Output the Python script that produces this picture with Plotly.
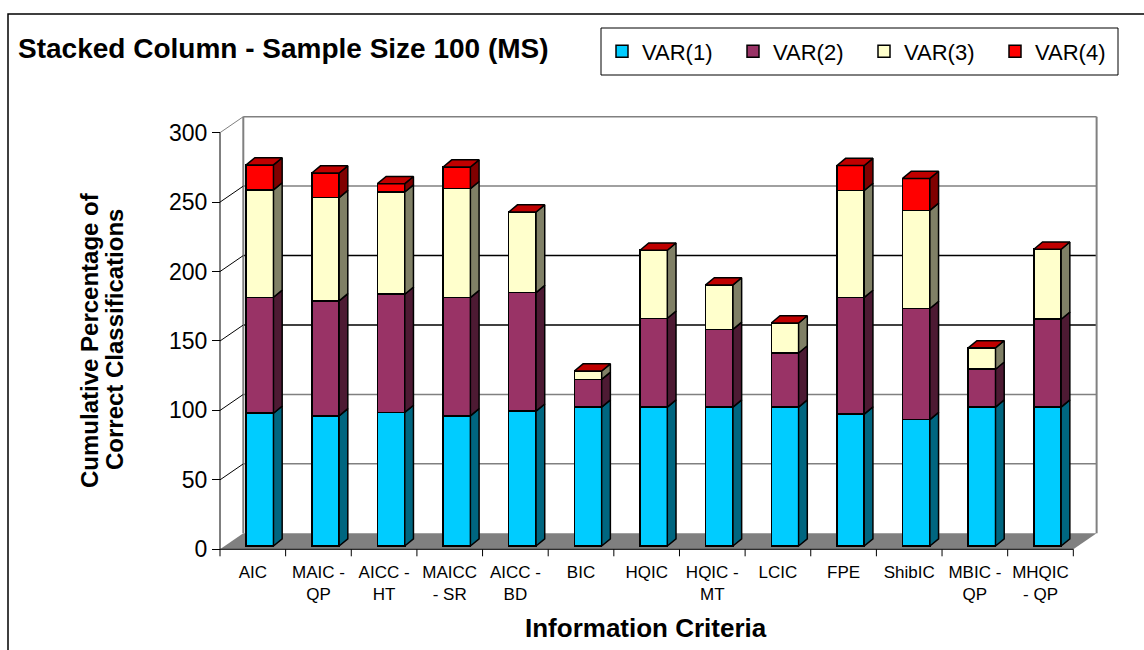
import plotly.graph_objects as go

# ---- data -------------------------------------------------------------
categories = ["AIC", "MAIC -<br>QP", "AICC -<br>HT", "MAICC<br>- SR", "AICC -<br>BD",
              "BIC", "HQIC", "HQIC -<br>MT", "LCIC", "FPE", "ShibIC",
              "MBIC -<br>QP", "MHQIC<br>- QP"]
var1 = [95.6, 93.7, 96.2, 93.7, 97.1, 100, 100, 100, 100, 95.0, 91.0, 100, 100]
var2 = [83.5, 82.8, 85.1, 85.2, 85.4, 20.0, 64.0, 56.0, 39.0, 84.0, 80.0, 27.3, 63.3]
var3 = [77.3, 74.4, 73.6, 78.4, 58.0, 6.0, 49.0, 32.0, 21.6, 77.0, 70.7, 15.4, 50.4]
var4 = [18.0, 17.7, 6.0, 15.6, 0, 0, 0, 0, 0, 18.0, 23.0, 0, 0]
series_names = ["VAR(1)", "VAR(2)", "VAR(3)", "VAR(4)"]
y_ticks = [0, 50, 100, 150, 200, 250, 300]

series = [var1, var2, var3, var4]

# ---- styling ----------------------------------------------------------
W, H = 1144, 650
FONT = "Liberation Sans, Arial, sans-serif"
front_col = ["#00CCFF", "#993366", "#FFFFCC", "#FF0000"]
side_col = ["#006680", "#4D1A33", "#808066", "#800000"]
top_col = ["#00A3CC", "#7A2952", "#CCCCA3", "#C00000"]

# pixel geometry of the 3-D frame
PX_X0 = 220.0          # left end of front floor edge
PX_CAT = 65.64         # width of one category slot
PX_Y0 = 549.3          # front floor edge
PX_UNIT = 1.3887       # pixels per value unit
WALL_DX, WALL_DY = 23.3, 16.0      # depth of the floor / side wall
BAR_SHIFT_X, BAR_SHIFT_Y = 7.0, 3.3  # bar front faces sit slightly inside the floor
BAR_DX, BAR_DY = 8.7, 7.2          # depth of each column
BAR_W = 27.3                        # column front width

n = len(categories)
x_rng = [-PX_X0 / PX_CAT - 0.5, (W - PX_X0) / PX_CAT - 0.5]
y_rng = [(PX_Y0 - H) / PX_UNIT, PX_Y0 / PX_UNIT]
x2_rng = [v - BAR_SHIFT_X / PX_CAT for v in x_rng]
y2_rng = [v - BAR_SHIFT_Y / PX_UNIT for v in y_rng]

wdx = WALL_DX / PX_CAT
wdy = WALL_DY / PX_UNIT
bdx = BAR_DX / PX_CAT
bdy = BAR_DY / PX_UNIT
bw = BAR_W / PX_CAT
hw = bw / 2

fig = go.Figure()

# ---- column front faces -----------------------------------------------
xs = list(range(n))
for k, vals in enumerate(series):
    fig.add_trace(go.Bar(
        x=xs, y=vals, name=series_names[k], width=bw,
        marker=dict(color=front_col[k], line=dict(color="black", width=1.5)),
        xaxis="x2", yaxis="y2", hoverinfo="skip",
    ))

# ---- column side faces and top caps ------------------------------------
base = [0.0] * n
for k, vals in enumerate(series):
    px_, py_ = [], []
    for i in range(n):
        b = base[i]
        t = b + vals[i]
        if vals[i] > 0:
            px_ += [i + hw, i + hw, i + hw + bdx, i + hw + bdx, i + hw, None]
            py_ += [b, t, t + bdy, b + bdy, b, None]
        base[i] = t
    if px_:
        fig.add_trace(go.Scatter(
            x=px_, y=py_, mode="lines", fill="toself", fillcolor=side_col[k],
            line=dict(color="black", width=1.5), xaxis="x2", yaxis="y2",
            showlegend=False, hoverinfo="skip",
        ))

tx, ty = [], []
for i in range(n):
    T = base[i]
    tx += [i - hw, i + hw, i + hw + bdx, i - hw + bdx, i - hw, None]
    ty += [T, T, T + bdy, T + bdy, T, None]
fig.add_trace(go.Scatter(
    x=tx, y=ty, mode="lines", fill="toself", fillcolor=top_col[3],
    line=dict(color="black", width=1.5), xaxis="x2", yaxis="y2",
    showlegend=False, hoverinfo="skip",
))

# ---- walls, floor and axis lines (front plane coordinates) -------------
shapes = []
left, right = -0.5, n - 0.5
top = y_ticks[-1]
# back wall
shapes.append(dict(type="rect", xref="x", yref="y", x0=left + wdx, x1=right + wdx,
                   y0=wdy, y1=top + wdy, fillcolor="white", line=dict(width=0),
                   layer="below"))
grid_colors = {50: "#808080", 100: "#808080", 150: "#000000", 200: "#000000",
               250: "#808080", 300: "#808080"}
for v in y_ticks[1:]:
    shapes.append(dict(type="line", xref="x", yref="y", x0=left + wdx, x1=right + wdx,
                       y0=v + wdy, y1=v + wdy, line=dict(color=grid_colors[v], width=1.5),
                       layer="below"))
# wall side edges
for xe in (left + wdx, right + wdx):
    shapes.append(dict(type="line", xref="x", yref="y", x0=xe, x1=xe,
                       y0=wdy, y1=top + wdy, line=dict(color="#808080", width=2),
                       layer="below"))
# left side wall diagonals
for v in y_ticks[1:]:
    shapes.append(dict(type="line", xref="x", yref="y", x0=left, x1=left + wdx,
                       y0=v, y1=v + wdy,
                       line=dict(color="#808080" if v == top else "black", width=1),
                       layer="below"))
# floor
shapes.append(dict(type="path", xref="x", yref="y",
                   path=f"M{left},0 L{right},0 L{right + wdx},{wdy} L{left + wdx},{wdy} Z",
                   fillcolor="#808080", line=dict(width=0), layer="below"))
# front value axis line and floor front edge
shapes.append(dict(type="line", xref="x", yref="y", x0=left, x1=left, y0=0, y1=top,
                   line=dict(color="black", width=1), layer="below"))
shapes.append(dict(type="line", xref="x", yref="y", x0=left, x1=right, y0=0, y1=0,
                   line=dict(color="black", width=1), layer="below"))
# category boundary ticks
tick_len = 7 / PX_UNIT
for j in range(n + 1):
    shapes.append(dict(type="line", xref="x", yref="y", x0=left + j, x1=left + j,
                       y0=0, y1=-tick_len, line=dict(color="black", width=1),
                       layer="below"))
# outer chart frame and legend box
shapes.append(dict(type="rect", xref="paper", yref="paper", x0=8 / W, x1=1.02,
                   y0=-0.02, y1=1 - 14 / H, line=dict(color="black", width=1.5),
                   fillcolor="rgba(0,0,0,0)"))
shapes.append(dict(type="rect", xref="paper", yref="paper", x0=601 / W, x1=1118 / W,
                   y0=1 - 75 / H, y1=1 - 28 / H, line=dict(color="black", width=1),
                   fillcolor="white", layer="below"))

annotations = [
    dict(text="<b>Cumulative Percentage of</b>", xref="paper", yref="paper",
         x=89 / W, y=1 - 340 / H, textangle=-90, showarrow=False,
         font=dict(family=FONT, size=24, color="black"), xanchor="center", yanchor="middle"),
    dict(text="<b>Correct Classifications</b>", xref="paper", yref="paper",
         x=114 / W, y=1 - 340 / H, textangle=-90, showarrow=False,
         font=dict(family=FONT, size=24, color="black"), xanchor="center", yanchor="middle"),
    dict(text="<b>Information Criteria</b>", xref="paper", yref="paper",
         x=646 / W, y=1 - 628 / H, showarrow=False,
         font=dict(family=FONT, size=26, color="black"), xanchor="center", yanchor="middle"),
]

fig.update_layout(
    width=W, height=H,
    margin=dict(l=0, r=0, t=0, b=0, autoexpand=False),
    paper_bgcolor="white", plot_bgcolor="rgba(0,0,0,0)",
    barmode="stack",
    font=dict(family=FONT, color="black"),
    title=dict(text="<b>Stacked Column - Sample Size 100 (MS)</b>",
               x=18 / W, xanchor="left", y=1 - 48 / H, yanchor="middle",
               font=dict(family=FONT, size=28, color="black")),
    xaxis=dict(range=x_rng, domain=[0, 1], anchor="free", position=(H - PX_Y0) / H,
               tickvals=xs, ticktext=categories, ticks="outside", ticklen=7,
               tickangle=0, automargin=False,
               tickcolor="rgba(0,0,0,0)", showline=False, showgrid=False, zeroline=False,
               tickfont=dict(family=FONT, size=17), fixedrange=True),
    yaxis=dict(range=y_rng, domain=[0, 1], anchor="free", position=PX_X0 / W,
               tickvals=y_ticks, ticks="outside", ticklen=8, tickcolor="black",
               automargin=False,
               showline=False, showgrid=False, zeroline=False,
               tickfont=dict(family=FONT, size=23), fixedrange=True),
    xaxis2=dict(range=x2_rng, overlaying="x", anchor="y2", visible=False, fixedrange=True),
    yaxis2=dict(range=y2_rng, overlaying="y", anchor="x2", visible=False, fixedrange=True),
    shapes=shapes,
    annotations=annotations,
    legend=dict(orientation="h", x=602 / W, y=1 - 51.5 / H, xanchor="left", yanchor="middle",
                bgcolor="rgba(0,0,0,0)", borderwidth=0,
                font=dict(family=FONT, size=22), entrywidth=86, entrywidthmode="pixels",
                traceorder="normal"),
    showlegend=True,
)

fig.write_html("out.html")
